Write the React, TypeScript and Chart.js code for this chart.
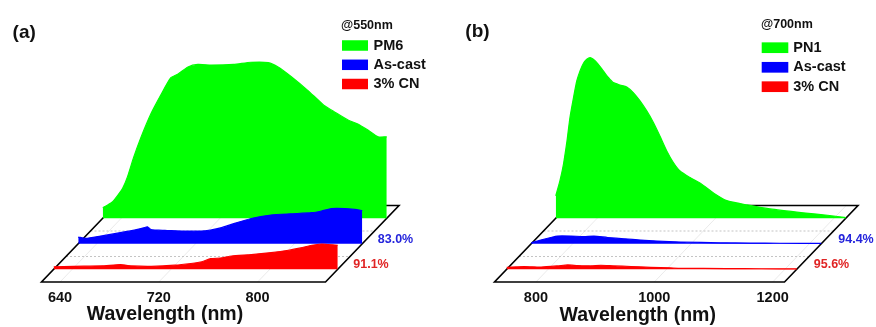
import React, { useEffect, useRef } from 'react';
import { Chart, registerables } from 'chart.js';

Chart.register(...registerables);

const FONT = '"Liberation Sans", Arial, Helvetica, sans-serif';

// ---------------- Panel (a) data ----------------
const A_TAG = '(a)';
const A_EXCITATION = '@550nm';
const A_NAMES = ['PM6', 'As-cast', '3% CN'];
const A_RANGE = [625, 855];
const A_TICKS = [640, 720, 800];
const A_PM6_WL = [625, 629, 633, 637, 641, 645, 650, 656, 664, 672, 680, 686, 694, 702, 713, 731, 745, 759, 767, 778, 791, 804, 813, 824, 832, 840, 848, 855];
const A_PM6 = [6.8, 8.5, 10.6, 14.5, 19, 26.5, 39, 52, 67, 79, 90, 92.5, 97, 98.6, 98.2, 98.6, 100, 99.8, 97, 90.6, 82, 72.5, 68, 62.8, 60.3, 56.4, 52.2, 52.2];
const A_ASCAST_WL = [625, 631, 643, 659, 673, 678, 681, 684, 690, 697, 711, 724, 732, 741, 749, 765, 781, 797, 814, 822, 830, 841, 849, 855];
const A_ASCAST = [4.3, 3.4, 4.9, 7.1, 9.2, 10.2, 10.9, 9.1, 8.7, 8.5, 8.1, 8.1, 8.8, 10.3, 12.4, 16.2, 18.4, 19.2, 19.9, 21, 22.6, 22.6, 22, 21.3];
const A_CN_WL = [625, 641, 663, 679, 684, 688, 704, 723, 736, 745, 752, 760, 769, 785, 801, 815, 825, 834, 842, 847, 855];
const A_CN = [1.5, 1.9, 2.1, 3.0, 2.5, 2.1, 1.9, 2.6, 3.7, 4.8, 6.8, 7.2, 8.5, 9.4, 10.7, 12.2, 13.7, 15.4, 16.2, 15.8, 15.4];
const A_QUENCH = ['83.0%', '91.1%']; // As-cast, 3% CN

// ---------------- Panel (b) data ----------------
const B_TAG = '(b)';
const B_EXCITATION = '@700nm';
const B_NAMES = ['PN1', 'As-cast', '3% CN'];
const B_RANGE = [730, 1220];
const B_TICKS = [800, 1000, 1200];
const B_PN1_WL = [730, 737, 743, 749, 754, 760, 765.5, 771, 776.6, 782.4, 788, 793.5, 802, 810.4, 818.9, 827.3, 838.7, 850, 861, 872.4, 883.8, 895, 906, 917.6, 928.7, 940, 957, 975, 997, 1019, 1053, 1092, 1148, 1193, 1220];
const B_PN1 = [13.9, 23.2, 33.6, 48.1, 62.7, 75.1, 85.4, 91.7, 96.3, 98.9, 100, 98.9, 95.8, 91.7, 87.6, 84.4, 82.9, 81.7, 78.2, 73, 66.8, 59.6, 51.2, 41.9, 34.7, 29.4, 25.3, 21.6, 15.6, 11, 8.3, 5.8, 3.4, 1.7, 0.4];
const B_ASCAST_WL = [730, 746, 763, 774, 797, 819, 836, 859, 887, 915, 943, 983, 1050, 1100, 1150, 1220];
const B_ASCAST = [0.6, 2.3, 3.9, 4.8, 4.8, 4.5, 4.8, 3.9, 3.1, 2.3, 1.7, 1.1, 0.6, 0.4, 0.3, 0.2];
const B_CN_WL = [730, 759, 788, 816, 833, 850, 872, 889, 911, 940, 973, 1007, 1024, 1100, 1160, 1220];
const B_CN = [1.2, 1.7, 1.4, 2.1, 2.7, 2.3, 2.1, 2.5, 2.1, 1.7, 1.2, 0.8, 0.6, 0.4, 0.3, 0.25];
const B_QUENCH = ['94.4%', '95.6%'];

const AXIS_TITLE = 'Wavelength (nm)';

// back → front
const FILL_COLORS = ['#00ff00', '#0000ff', '#ff0000'];
const LABEL_COLORS = ['#2424dc', '#e02424'];

type Geom = {
  left: number; width: number; height: number;
  frontLeft: number; base: number; top: number;
  layerLen: number; dx: number; dy: number; unitPx: number;
};
type Layout = {
  tag: number[]; exc: number[]; boxX: number; boxW: number; boxH: number;
  rows: number[]; textX: number; titleAt: number; tickDy: number; titleDy: number;
  labelDx: number; labelDy: number;
};
type Panel = {
  tag: string; exc: string; names: string[]; range: number[]; ticks: number[];
  wls: number[][]; vals: number[][]; quench: string[];
  geom: Geom; layout: Layout;
};

const PANELS: Panel[] = [
  {
    tag: A_TAG, exc: A_EXCITATION, names: A_NAMES, range: A_RANGE, ticks: A_TICKS,
    wls: [A_PM6_WL, A_ASCAST_WL, A_CN_WL], vals: [A_PM6, A_ASCAST, A_CN], quench: A_QUENCH,
    geom: { left: 0, width: 438, height: 327, frontLeft: 41.5, base: 282, top: 40, layerLen: 284, dx: 24.5, dy: 25.5, unitPx: 1.56 },
    layout: { tag: [24.2, 32.5], exc: [341, 25.5], boxX: 342, boxW: 26, boxH: 10.5, rows: [45.5, 64.8, 84], textX: 373.5, titleAt: 725, tickDy: 15.7, titleDy: 33, labelDx: 15.5, labelDy: 4.5 },
  },
  {
    tag: B_TAG, exc: B_EXCITATION, names: B_NAMES, range: B_RANGE, ticks: B_TICKS,
    wls: [B_PN1_WL, B_ASCAST_WL, B_CN_WL], vals: [B_PN1, B_ASCAST, B_CN], quench: B_QUENCH,
    geom: { left: 438, width: 438, height: 327, frontLeft: 56.5, base: 282, top: 40, layerLen: 290, dx: 24.5, dy: 25.5, unitPx: 1.607 },
    layout: { tag: [39.5, 32], exc: [323, 24.5], boxX: 323.7, boxW: 26.6, boxH: 10.7, rows: [47.7, 67.3, 86.7], textX: 355.3, titleAt: 972, tickDy: 15.7, titleDy: 33.5, labelDx: 17, labelDy: 4.5 },
  },
];

const DEPTHS = [2, 1, 0]; // green back, blue middle, red front

function makePlugin(p: Panel) {
  const g = p.geom;
  const L = p.layout;
  const [xmin, xmax] = p.range;
  const pt = (chart: any, lam: number, d: number, v = 0): [number, number] => {
    const xf = chart.scales.xf;
    const yf = chart.scales.yf;
    return [xf.getPixelForValue(lam) + (d + 0.5) * g.dx, yf.getPixelForValue(v) - (d + 0.5) * g.dy];
  };
  return {
    id: 'waterfall' + p.tag,
    beforeDatasetsDraw(chart: any) {
      const ctx = chart.ctx;
      ctx.save();
      // faint diagonal grid lines at tick values
      ctx.strokeStyle = '#e4e4e4';
      ctx.lineWidth = 0.8;
      for (const t of p.ticks) {
        const a = pt(chart, t, -0.5);
        const b = pt(chart, t, 2.5);
        ctx.beginPath();
        ctx.moveTo(a[0], a[1]);
        ctx.lineTo(b[0], b[1]);
        ctx.stroke();
      }
      // dotted separators between layers
      ctx.strokeStyle = '#c4c4c4';
      ctx.lineWidth = 1;
      ctx.setLineDash([2, 2]);
      for (const d of [0.5, 1.5]) {
        const a = pt(chart, xmin, d);
        const b = pt(chart, xmax, d);
        ctx.beginPath();
        ctx.moveTo(a[0], a[1]);
        ctx.lineTo(b[0], b[1]);
        ctx.stroke();
      }
      ctx.setLineDash([]);
      // floor outline
      const fl = pt(chart, xmin, -0.5);
      const fr = pt(chart, xmax, -0.5);
      const br = pt(chart, xmax, 2.5);
      const bl = pt(chart, xmin, 2.5);
      ctx.strokeStyle = '#000';
      ctx.lineWidth = 1.6;
      ctx.lineJoin = 'miter';
      ctx.beginPath();
      ctx.moveTo(fl[0], fl[1]);
      ctx.lineTo(fr[0], fr[1]);
      ctx.lineTo(br[0], br[1]);
      ctx.lineTo(bl[0], bl[1]);
      ctx.closePath();
      ctx.stroke();
      ctx.restore();
    },
    afterDraw(chart: any) {
      const ctx = chart.ctx;
      const xf = chart.scales.xf;
      ctx.save();
      ctx.fillStyle = '#111';
      ctx.textBaseline = 'middle';
      // tick labels
      ctx.textAlign = 'center';
      ctx.font = `bold 14.5px ${FONT}`;
      for (const t of p.ticks) {
        ctx.fillText(String(t), xf.getPixelForValue(t), g.base + L.tickDy);
      }
      // axis title
      ctx.font = `bold 19.5px ${FONT}`;
      ctx.fillText(AXIS_TITLE, xf.getPixelForValue(L.titleAt), g.base + L.titleDy);
      // quenching labels (blue d=1, red d=0)
      ctx.textAlign = 'left';
      ctx.font = `bold 12.5px ${FONT}`;
      [1, 0].forEach((d, i) => {
        const sx = chart.scales['x' + d];
        const sy = chart.scales['y' + d];
        ctx.fillStyle = LABEL_COLORS[i];
        ctx.fillText(p.quench[i], sx.getPixelForValue(xmax) + L.labelDx, sy.getPixelForValue(0) - L.labelDy);
      });
      // legend
      ctx.fillStyle = '#111';
      ctx.font = `bold 12.5px ${FONT}`;
      ctx.fillText(p.exc, L.exc[0], L.exc[1]);
      ctx.font = `bold 14.5px ${FONT}`;
      p.names.forEach((name, i) => {
        ctx.fillStyle = FILL_COLORS[i];
        ctx.fillRect(L.boxX, L.rows[i] - L.boxH / 2, L.boxW, L.boxH);
        ctx.fillStyle = '#111';
        ctx.fillText(name, L.textX, L.rows[i]);
      });
      // panel tag
      ctx.textAlign = 'center';
      ctx.font = `bold 19px ${FONT}`;
      ctx.fillText(p.tag, L.tag[0], L.tag[1]);
      ctx.restore();
    },
  };
}

function buildChart(canvas: HTMLCanvasElement, p: Panel) {
  const g = p.geom;
  const [xmin, xmax] = p.range;
  const ppn = g.layerLen / (xmax - xmin);
  const W = g.layerLen + 3 * g.dx;
  const H = g.base - g.top;
  const scales: any = {};
  const ids: [string, number][] = [['f', -0.5], ['0', 0], ['1', 1], ['2', 2]];
  for (const [id, d] of ids) {
    const sx = ((d + 0.5) * g.dx) / ppn;
    const sy = ((d + 0.5) * g.dy) / g.unitPx;
    scales['x' + id] = {
      type: 'linear', axis: 'x', position: 'bottom', display: false, bounds: 'data',
      min: xmin - sx, max: xmin - sx + W / ppn,
      grid: { display: false }, ticks: { display: false },
    };
    scales['y' + id] = {
      type: 'linear', axis: 'y', position: 'left', display: false, bounds: 'data',
      min: -sy, max: -sy + H / g.unitPx,
      grid: { display: false }, ticks: { display: false },
    };
  }
  // index 0 is drawn last (on top): front (red) first, back (green) last
  const datasets = [2, 1, 0].map((si) => ({
    label: p.names[si],
    data: p.wls[si].map((x, i) => ({ x, y: p.vals[si][i] })),
    xAxisID: 'x' + DEPTHS[si],
    yAxisID: 'y' + DEPTHS[si],
    borderColor: FILL_COLORS[si],
    backgroundColor: FILL_COLORS[si],
    borderWidth: 1.2,
    pointRadius: 0,
    tension: 0.2,
    fill: 'origin',
    clip: false as any,
  }));
  return new Chart(canvas, {
    type: 'line',
    data: { datasets },
    options: {
      animation: false,
      responsive: false,
      devicePixelRatio: 1,
      events: [],
      layout: {
        padding: {
          left: g.frontLeft,
          right: g.width - (g.frontLeft + W),
          top: g.top,
          bottom: g.height - g.base,
        },
      },
      scales,
      plugins: {
        legend: { display: false },
        title: { display: false },
        tooltip: { enabled: false },
      },
    },
    plugins: [makePlugin(p)],
  } as any);
}

function PanelChart({ panel }: { panel: Panel }) {
  const ref = useRef<HTMLCanvasElement>(null);
  useEffect(() => {
    const chart = buildChart(ref.current as HTMLCanvasElement, panel);
    return () => chart.destroy();
  }, [panel]);
  const g = panel.geom;
  return (
    <canvas
      ref={ref}
      width={g.width}
      height={g.height}
      style={{ position: 'absolute', left: g.left, top: 0, width: g.width, height: g.height, display: 'block' }}
    />
  );
}

export default function App() {
  return (
    <div style={{ position: 'fixed', left: 0, top: 0, width: 876, height: 327, background: '#fff', overflow: 'hidden' }}>
      {PANELS.map((p) => (
        <PanelChart key={p.tag} panel={p} />
      ))}
    </div>
  );
}
